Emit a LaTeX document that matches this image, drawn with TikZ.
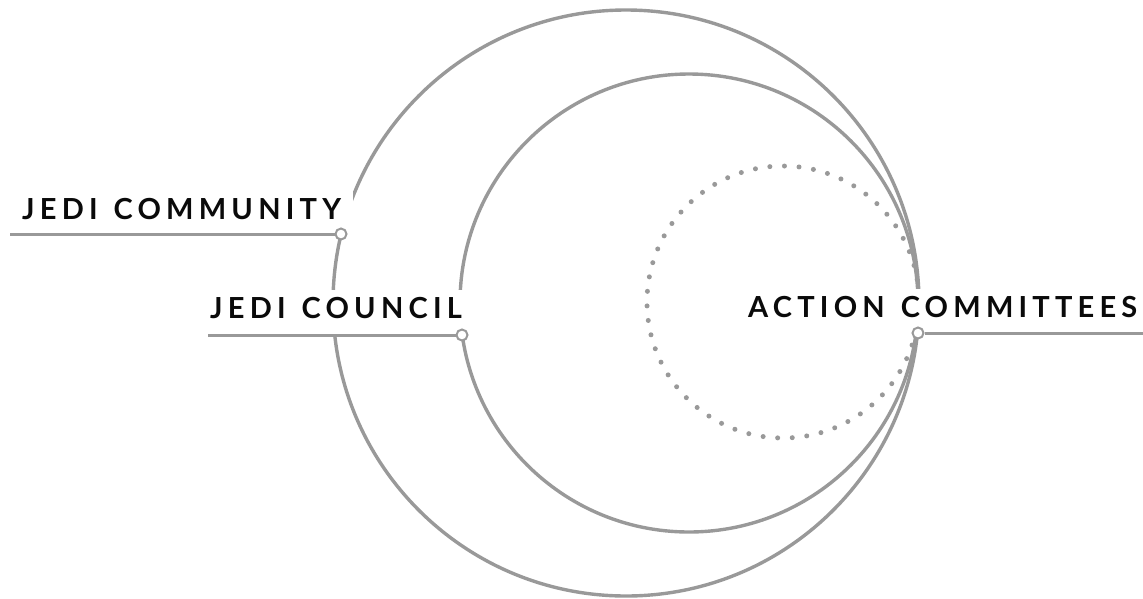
\documentclass[tikz,border=0pt]{standalone}
\usepackage{fontspec}
\newfontfamily\labelfont{Lato}[LetterSpace=18, WordSpace=1.3]
\definecolor{ringgray}{HTML}{999999}
\definecolor{ink}{HTML}{0A0A0A}

\begin{document}
\begin{tikzpicture}[x=1pt,y=-1pt,
    ring/.style={draw=ringgray, line width=3.4pt},
    dotring/.style={draw=ringgray, line width=5pt, line cap=round, dash pattern=on 0pt off 14.6pt},
    tag/.style={fill=white, inner xsep=12pt, inner ysep=0pt, text height=28pt, text depth=17pt,
      font=\labelfont\bfseries\fontsize{29}{29}\selectfont, text=ink},
    pin/.style={circle, draw=ringgray, fill=white, line width=2pt, inner sep=0pt, minimum size=11pt},
    lead/.style={draw=ringgray, line width=3pt}]
  \useasboundingbox (0,0) rectangle (1143,598);

  % the three rings
  \draw[ring] (626,303) circle[radius=293];
  \draw[ring] (689,303) circle[radius=229];
  \draw[dotring] (783,302) circle[radius=136];

  % labels sit on white so the rings break behind them
  \node[tag, anchor=base west] (community) at (10,219) {JEDI COMMUNITY};
  \node[tag, anchor=base west] (council) at (198,318) {JEDI COUNCIL};
  \node[tag, anchor=base west] (committees) at (736,317) {ACTION COMMITTEES};

  % leader lines
  \node[pin] (pcommunity) at (341,234) {};
  \node[pin] (pcouncil) at (462,335) {};
  \node[pin] (pcommittees) at (918,333) {};
  \coordinate (ecommunity) at (10,234);
  \coordinate (ecouncil) at (208,335);
  \coordinate (ecommittees) at (1143,333);
  \draw[lead] (ecommunity) -- (pcommunity);
  \draw[lead] (ecouncil) -- (pcouncil);
  \draw[lead] (pcommittees) -- (ecommittees);
\end{tikzpicture}
\end{document}
